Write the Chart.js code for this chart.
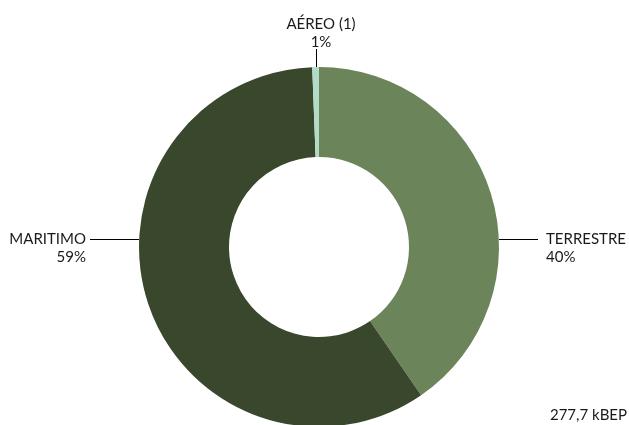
<!DOCTYPE html>
<html>
<head>
<meta charset="utf-8">
<script src="https://cdn.jsdelivr.net/npm/chart.js@4"></script>
<style>
  html, body { margin: 0; padding: 0; background: #fff; overflow: hidden; }
  #wrap { position: relative; width: 629px; height: 427px; }
</style>
</head>
<body>
<div id="wrap"><canvas id="modalChart"></canvas></div>
<script>
// ---- data ----
const categories = ['TERRESTRE', 'MARITIMO', 'AÉREO (1)'];
const shares     = [40.4, 59.0, 0.6];           // % of total consumption
const colours    = ['#6b8459', '#39472d', '#b3dcc8'];
const totalLabel = '277,7 kBEP';

const labelFont = '15px Lato';
const textCol   = '#1a1a1a';

// draws the callout labels + leader lines, and the total in the corner
const calloutPlugin = {
  id: 'callouts',
  afterDraw(chart) {
    const ctx = chart.ctx;
    const arcs = chart.getDatasetMeta(0).data;
    const cx = arcs[0].x, cy = arcs[0].y, r = arcs[0].outerRadius;
    ctx.save();
    ctx.font = labelFont;
    ctx.fillStyle = textCol;
    ctx.strokeStyle = '#000';
    ctx.lineWidth = 1;

    arcs.forEach((arc, i) => {
      const pct = Math.round(shares[i]) + '%';
      const name = categories[i];
      ctx.beginPath();
      if (i === 0) {            // right side
        ctx.moveTo(cx + r, cy - 7.5);
        ctx.lineTo(cx + r + 39, cy - 7.5);
        ctx.stroke();
        ctx.textAlign = 'left';
        ctx.textBaseline = 'alphabetic';
        ctx.fillText(name, cx + r + 47, cy - 3);
        ctx.fillText(pct, cx + r + 47, cy + 15);
      } else if (i === 1) {     // left side
        ctx.moveTo(cx - r, cy - 7.5);
        ctx.lineTo(cx - r - 49, cy - 7.5);
        ctx.stroke();
        ctx.textAlign = 'right';
        ctx.textBaseline = 'alphabetic';
        ctx.fillText(name, cx - r - 53, cy - 3);
        ctx.fillText(pct, cx - r - 53, cy + 15);
      } else {                  // top
        const mid = (arc.startAngle + arc.endAngle) / 2;
        const x = Math.round(cx + r * Math.cos(mid)) + 0.5;
        ctx.moveTo(x, cy - r);
        ctx.lineTo(x, cy - r - 18);
        ctx.stroke();
        ctx.textAlign = 'center';
        ctx.textBaseline = 'alphabetic';
        ctx.fillText(name, cx + 2, cy - r - 38);
        ctx.fillText(pct, cx + 2, cy - r - 20);
      }
    });

    ctx.textAlign = 'right';
    ctx.fillText(totalLabel, 627, 420);
    ctx.restore();
  }
};

new Chart(document.getElementById('modalChart'), {
  type: 'doughnut',
  data: {
    labels: categories,
    datasets: [{
      data: shares,
      backgroundColor: colours,
      borderWidth: 0,
      hoverOffset: 0
    }]
  },
  options: {
    responsive: true,
    maintainAspectRatio: false,
    animation: false,
    cutout: '50%',
    rotation: 0,
    layout: { padding: { top: 67, bottom: 0, left: 139, right: 130 } },
    plugins: {
      legend: { display: false },
      tooltip: { enabled: false }
    }
  },
  plugins: [calloutPlugin]
});
</script>
</body>
</html>
